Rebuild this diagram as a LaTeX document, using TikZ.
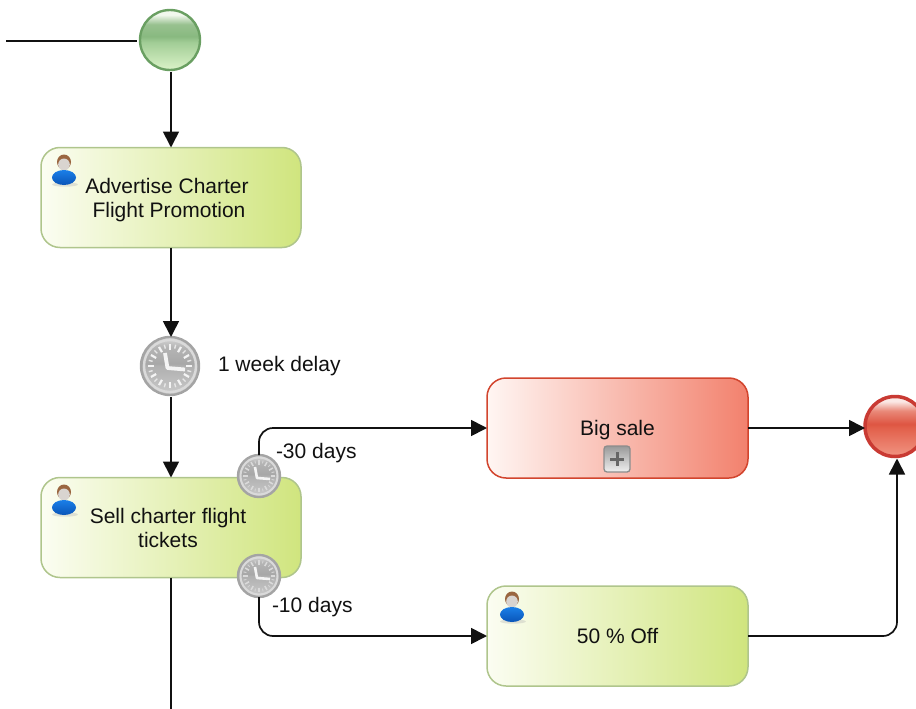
\documentclass[tikz,border=0pt]{standalone}
\usepackage{fontspec}
\setmainfont{Liberation Sans}
\usetikzlibrary{arrows.meta}
\definecolor{inkc}{HTML}{111111}
\definecolor{taskl}{HTML}{FBFDF2}
\definecolor{taskr}{HTML}{D0E57E}
\definecolor{taskb}{HTML}{AFC58C}
\definecolor{redl}{HTML}{FFF6F3}
\definecolor{redr}{HTML}{F2816D}
\definecolor{redb}{HTML}{D2452E}
\definecolor{GrA}{HTML}{D6F0C4}
\definecolor{GrB}{HTML}{A2CD96}
\definecolor{GrC}{HTML}{88B980}
\definecolor{GrD}{HTML}{98C18F}
\definecolor{GrE}{HTML}{F2F8EE}
\definecolor{GrL}{HTML}{6A9F62}
\definecolor{RA}{HTML}{F0907E}
\definecolor{RB}{HTML}{E2604B}
\definecolor{RC}{HTML}{DE5542}
\definecolor{RD}{HTML}{E98878}
\definecolor{RE}{HTML}{FBE9E6}
\definecolor{RL}{HTML}{C93A33}
\definecolor{GA}{HTML}{C8C8C8}
\definecolor{GB}{HTML}{B0B0B0}
\definecolor{GC}{HTML}{A8A8A8}
\definecolor{GD}{HTML}{B4B4B4}
\definecolor{GE}{HTML}{D8D8D8}
\pgfdeclareverticalshading{greenball}{100bp}{
 color(0bp)=(GrA);
 color(27bp)=(GrA);
 color(48bp)=(GrB);
 color(53bp)=(GrC);
 color(63bp)=(GrD);
 color(71bp)=(GrE);
 color(100bp)=(GrE)}
\pgfdeclareverticalshading{redball}{100bp}{
 color(0bp)=(RA);
 color(27bp)=(RA);
 color(49bp)=(RB);
 color(52bp)=(RC);
 color(63bp)=(RD);
 color(71bp)=(RE);
 color(100bp)=(RE)}
\pgfdeclareverticalshading{greyball}{100bp}{
 color(0bp)=(GA);
 color(27bp)=(GA);
 color(50bp)=(GB);
 color(52bp)=(GC);
 color(66bp)=(GD);
 color(75bp)=(GE);
 color(100bp)=(GE)}
\definecolor{PB}{HTML}{1A7FE8}
\definecolor{PBd}{HTML}{0A55B8}
\definecolor{PH}{HTML}{D9D4D0}
\definecolor{PHr}{HTML}{9A6640}
\definecolor{KA}{HTML}{F4F4F4}
\definecolor{KB}{HTML}{A4A4A4}
\definecolor{KC}{HTML}{DADADA}
\tikzset{
 x=1pt,y=-1pt,
 every node/.style={font=\fontsize{21}{24}\selectfont,text=inkc,inner sep=0pt,outer sep=0pt},
 taskbox/.style={draw=taskb,line width=1.5pt,rounded corners=19pt,left color=taskl,right color=taskr,
   minimum width=260pt,minimum height=100pt,align=center},
 subbox/.style={draw=redb,line width=1.5pt,rounded corners=19pt,left color=redl,right color=redr,
   minimum width=261pt,minimum height=100pt,align=center},
 startball/.style={circle,draw=GrL,line width=2.4pt,shading=greenball,minimum size=60pt},
 endball/.style={circle,draw=RL,line width=3.5pt,shading=redball,minimum size=60pt},
 timerball/.style={circle,draw=KB,line width=2.4pt,shading=greyball,minimum size=#1},
 flow/.style={draw=inkc,line width=1.7pt,-{Triangle[length=16pt,width=16pt]}},
 plainflow/.style={draw=inkc,line width=1.7pt},
 person/.pic={
   \fill[black!30,opacity=.35] (1,14.5) ellipse (13 and 2.2);
   \fill[PHr] (0,-8) ellipse (7 and 7.5);
   \fill[PH] (0,-5.5) ellipse (5.8 and 6);
   \shade[top color=PB,bottom color=PBd] (0,7.5) ellipse (12 and 7.5);
 },
 clock/.pic={
   \draw[KC,line width=2.4pt] (0,0) circle (26);
   \foreach \a in {0,30,...,330}{\draw[KA,line width=2.2pt] (\a:16) -- (\a:22);}
   \foreach \a in {15,45,...,345}{\draw[KA!80!GB,line width=1.4pt] (\a:18) -- (\a:22);}
   \draw[KA,line width=3.8pt,line join=round] (-5,-13) -- (-2.5,2) -- (15,3.5);
 },
 smallclock/.pic={
   \draw[KC,line width=2pt] (0,0) circle (18.5);
   \foreach \a in {0,30,...,330}{\draw[KC,line width=1.5pt] (\a:11.5) -- (\a:16);}
   \foreach \a in {15,45,...,345}{\draw[KC!80!GB,line width=1pt] (\a:13) -- (\a:16);}
   \draw[KA,line width=2.6pt,line join=round] (-4,-9) -- (-2,2) -- (11,3);
 },
 plusbtn/.style={draw=black!45,line width=1.3pt,rounded corners=3pt,top color=black!40,bottom color=black!6,minimum size=26pt},
}
\begin{document}
\begin{tikzpicture}
\useasboundingbox (0,0) rectangle (916,709);
\clip (0,0) rectangle (916,709);
% nodes
\node[startball] (start) at (170,40) {};
\node[taskbox] (advert) at (171,197.5) {\rule{0pt}{21pt}Advertise Charter\kern8pt\\Flight Promotion\kern4pt};
\node[timerball=58pt] (delay) at (170,366) {};
\pic at (170,366) {clock};
\node[anchor=west] (delaylab) at (218,366) {1 week delay};
\node[taskbox] (sell) at (171,527.5) {\rule{0pt}{17pt}Sell charter flight\kern6pt\\tickets\kern6pt};
\node[timerball=42pt] (bt1) at (259,476) {};
\pic at (259,476) {smallclock};
\node[timerball=42pt] (bt2) at (259,576) {};
\pic at (259,576) {smallclock};
\node[subbox] (big) at (617.5,428) {\rule{0pt}{19pt}Big sale};
\node[plusbtn] (plus) at (617,459) {};
\draw[black!60,line width=3pt] (plus.center) ++(-7,0) -- ++(14,0) (plus.center) ++(0,-7) -- ++(0,14);
\node[taskbox,minimum width=261pt] (off) at (617.5,636) {50 \% Off};
\node[endball] (end) at (895,426.5) {};
\node[anchor=west] (lab30) at (276,453) {-30 days};
\node[anchor=west] (lab10) at (272,607) {-10 days};
\pic at (64,170) {person};
\pic at (64,500) {person};
\pic at (512,607) {person};
% connectors
\coordinate (in) at (6,41);
\coordinate (out) at (171,709);
\draw[plainflow,shorten >=3pt] (in) -- (start.west |- in);
\draw[flow,shorten <=2pt] (start.south -| advert.north) -- (advert);
\draw[flow] (advert) -- (delay.north -| advert.south);
\draw[flow,shorten <=2pt] (delay.south -| sell.north) -- (sell);
\draw[plainflow] (sell) -- (out);
\draw[flow,rounded corners=14pt] (bt1.north) |- (big.west);
\draw[flow,rounded corners=14pt] (bt2.south) |- (off.west);
\draw[flow] (big.east) -- (big.east -| end.west);
\draw[flow,rounded corners=14pt,shorten >=2pt] (off.east) -| ([xshift=2pt]end.south);
\end{tikzpicture}
\end{document}
